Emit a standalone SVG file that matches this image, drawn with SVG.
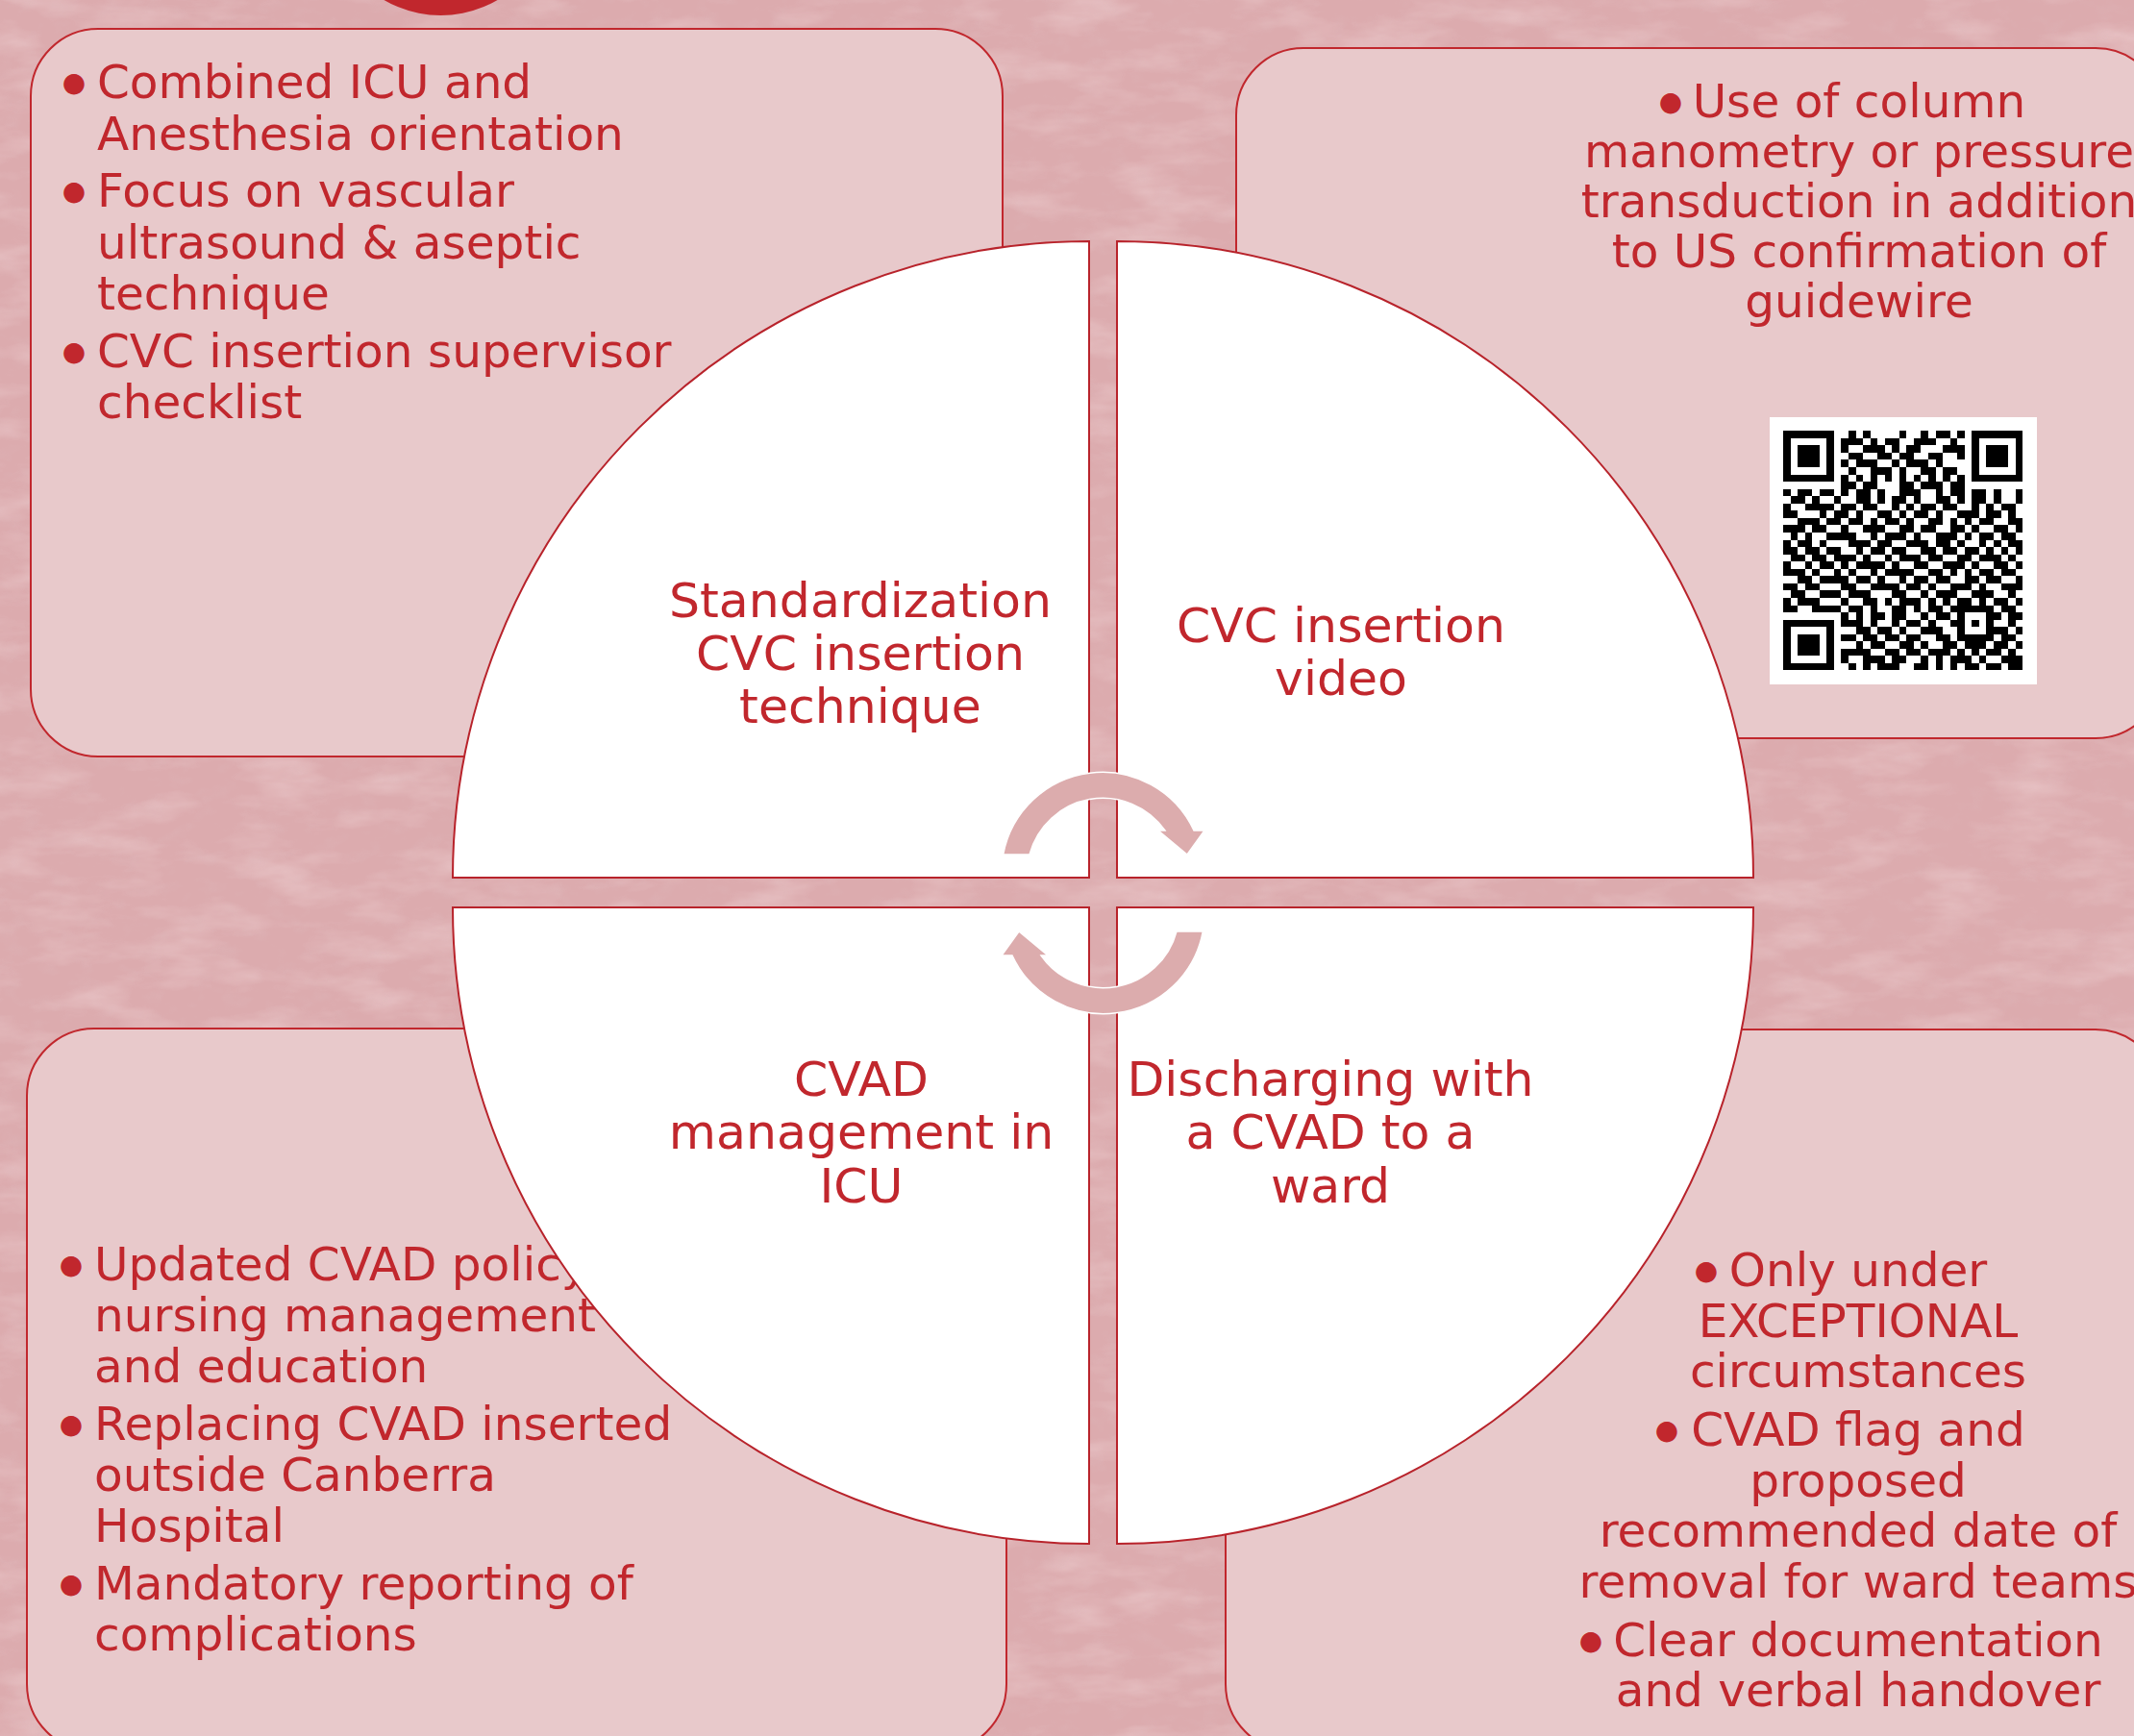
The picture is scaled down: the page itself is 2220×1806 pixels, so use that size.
<svg xmlns="http://www.w3.org/2000/svg" width="2220" height="1806" viewBox="0 0 2220 1806">
  <defs>
    <style>
      .box { fill: #e8c9cb; stroke: #c1272d; stroke-width: 2; }
      .quad { fill: #ffffff; stroke: #b8232b; stroke-width: 2; }
      .arrow { fill: #dcacad; stroke: #ffffff; stroke-width: 1.5; }
      .txt { font-family: Verdana, "DejaVu Sans", sans-serif; font-size: 48.5px; fill: #c1272d; }
      .lbl { font-size: 50.5px; text-anchor: middle; }
      .mid { text-anchor: middle; }
      .dot { text-anchor: middle; font-size: 28px; }
    </style>
    <filter id="mottle" x="0" y="0" width="100%" height="100%">
      <feTurbulence type="fractalNoise" baseFrequency="0.012 0.035" numOctaves="4" seed="7"/>
      <feColorMatrix type="matrix" values="0 0 0 0 0.94  0 0 0 0 0.79  0 0 0 0 0.80  0 0 0 1.6 -0.7"/>
    </filter>
    <filter id="mottleDark" x="0" y="0" width="100%" height="100%">
      <feTurbulence type="fractalNoise" baseFrequency="0.04 0.06" numOctaves="3" seed="19"/>
      <feColorMatrix type="matrix" values="0 0 0 0 0.74  0 0 0 0 0.52  0 0 0 0 0.54  0 0 0 1.6 -0.8"/>
    </filter>
  </defs>

  <!-- textured pink backdrop -->
  <g id="background">
    <rect x="0" y="0" width="2220" height="1806" fill="#dcabae"/>
    <rect x="0" y="0" width="2220" height="1806" filter="url(#mottle)" opacity="0.45"/>
    <rect x="0" y="0" width="2220" height="1806" filter="url(#mottleDark)" opacity="0.3"/>
  </g>

  <!-- red disc peeking in at the top edge -->
  <circle id="top-disc" cx="458.5" cy="-101" r="117" fill="#c1272d"/>

  <!-- top-left note -->
  <g id="note-top-left">
    <rect class="box" x="32" y="30" width="1011" height="757" rx="70" ry="70"/>
    <text class="txt"><tspan class="dot" x="77" y="95">●</tspan><tspan x="101" y="102">Combined ICU and</tspan><tspan x="101" y="155.5">Anesthesia orientation</tspan></text>
    <text class="txt"><tspan class="dot" x="77" y="208">●</tspan><tspan x="101" y="215">Focus on vascular</tspan><tspan x="101" y="268.5">ultrasound &amp; aseptic</tspan><tspan x="101" y="322">technique</tspan></text>
    <text class="txt"><tspan class="dot" x="77" y="374.5">●</tspan><tspan x="101" y="381.5">CVC insertion supervisor</tspan><tspan x="101" y="435">checklist</tspan></text>
  </g>

  <!-- top-right note with QR code -->
  <g id="note-top-right">
    <rect class="box" x="1286" y="50" width="964" height="718" rx="70" ry="70"/>
    <text class="txt"><tspan class="dot" x="1738" y="115">●</tspan><tspan class="mid" x="1934" y="122">Use of column</tspan><tspan class="mid" x="1934" y="174">manometry or pressure</tspan><tspan class="mid" x="1934" y="226">transduction in addition</tspan><tspan class="mid" x="1934" y="278">to US confirmation of</tspan><tspan class="mid" x="1934" y="330">guidewire</tspan></text>
    <g id="qr-code">
      <rect x="1841" y="434" width="278" height="278" fill="#ffffff"/>
      <path transform="translate(1855 448.3) scale(7.55)" fill="#000000" shape-rendering="crispEdges" d="
M0 0h7v1h-7zM9 0h1v1h-1zM11 0h1v1h-1zM16 0h1v1h-1zM19 0h1v1h-1zM21 0h2v1h-2zM24 0h1v1h-1zM26 0h7v1h-7z
M0 1h1v1h-1zM6 1h1v1h-1zM8 1h3v1h-3zM12 1h1v1h-1zM14 1h2v1h-2zM18 1h3v1h-3zM23 1h1v1h-1zM26 1h1v1h-1zM32 1h1v1h-1z
M0 2h1v1h-1zM2 2h3v1h-3zM6 2h1v1h-1zM8 2h1v1h-1zM11 2h3v1h-3zM15 2h1v1h-1zM17 2h2v1h-2zM22 2h3v1h-3zM26 2h1v1h-1zM28 2h3v1h-3zM32 2h1v1h-1z
M0 3h1v1h-1zM2 3h3v1h-3zM6 3h1v1h-1zM9 3h2v1h-2zM13 3h2v1h-2zM16 3h2v1h-2zM20 3h2v1h-2zM24 3h1v1h-1zM26 3h1v1h-1zM28 3h3v1h-3zM32 3h1v1h-1z
M0 4h1v1h-1zM2 4h3v1h-3zM6 4h1v1h-1zM8 4h1v1h-1zM10 4h3v1h-3zM15 4h1v1h-1zM17 4h3v1h-3zM21 4h1v1h-1zM26 4h1v1h-1zM28 4h3v1h-3zM32 4h1v1h-1z
M0 5h1v1h-1zM6 5h1v1h-1zM9 5h1v1h-1zM12 5h3v1h-3zM16 5h1v1h-1zM19 5h2v1h-2zM22 5h2v1h-2zM26 5h1v1h-1zM32 5h1v1h-1z
M0 6h7v1h-7zM8 6h1v1h-1zM10 6h1v1h-1zM12 6h1v1h-1zM14 6h1v1h-1zM16 6h1v1h-1zM18 6h1v1h-1zM20 6h1v1h-1zM22 6h1v1h-1zM24 6h1v1h-1zM26 6h7v1h-7z
M8 7h2v1h-2zM11 7h2v1h-2zM16 7h2v1h-2zM19 7h3v1h-3zM23 7h2v1h-2z
M0 8h1v1h-1zM2 8h2v1h-2zM5 8h2v1h-2zM8 8h1v1h-1zM10 8h2v1h-2zM13 8h1v1h-1zM16 8h3v1h-3zM21 8h1v1h-1zM23 8h2v1h-2zM26 8h2v1h-2zM29 8h1v1h-1zM32 8h1v1h-1z
M1 9h2v1h-2zM4 9h1v1h-1zM7 9h1v1h-1zM10 9h2v1h-2zM13 9h1v1h-1zM15 9h2v1h-2zM18 9h1v1h-1zM21 9h2v1h-2zM24 9h1v1h-1zM26 9h2v1h-2zM29 9h1v1h-1zM32 9h1v1h-1z
M0 10h1v1h-1zM3 10h4v1h-4zM8 10h2v1h-2zM11 10h2v1h-2zM15 10h1v1h-1zM17 10h1v1h-1zM19 10h2v1h-2zM22 10h2v1h-2zM26 10h1v1h-1zM28 10h1v1h-1zM30 10h2v1h-2z
M0 11h2v1h-2zM5 11h1v1h-1zM7 11h2v1h-2zM10 11h1v1h-1zM13 11h2v1h-2zM16 11h1v1h-1zM18 11h2v1h-2zM21 11h1v1h-1zM24 11h3v1h-3zM28 11h2v1h-2zM31 11h1v1h-1z
M2 12h3v1h-3zM6 12h2v1h-2zM9 12h2v1h-2zM12 12h1v1h-1zM14 12h2v1h-2zM17 12h1v1h-1zM20 12h2v1h-2zM23 12h1v1h-1zM25 12h1v1h-1zM27 12h2v1h-2zM31 12h2v1h-2z
M0 13h3v1h-3zM4 13h2v1h-2zM8 13h1v1h-1zM11 13h3v1h-3zM16 13h2v1h-2zM19 13h2v1h-2zM23 13h2v1h-2zM26 13h1v1h-1zM29 13h2v1h-2zM32 13h1v1h-1z
M1 14h1v1h-1zM3 14h1v1h-1zM6 14h4v1h-4zM12 14h1v1h-1zM14 14h3v1h-3zM18 14h1v1h-1zM21 14h3v1h-3zM25 14h1v1h-1zM27 14h2v1h-2zM30 14h2v1h-2z
M0 15h1v1h-1zM2 15h2v1h-2zM5 15h1v1h-1zM9 15h3v1h-3zM13 15h2v1h-2zM17 15h3v1h-3zM21 15h2v1h-2zM24 15h1v1h-1zM27 15h1v1h-1zM29 15h1v1h-1zM31 15h2v1h-2z
M0 16h2v1h-2zM3 16h2v1h-2zM6 16h2v1h-2zM10 16h1v1h-1zM12 16h2v1h-2zM15 16h2v1h-2zM19 16h2v1h-2zM22 16h2v1h-2zM25 16h2v1h-2zM28 16h1v1h-1zM30 16h1v1h-1zM32 16h1v1h-1z
M1 17h2v1h-2zM4 17h2v1h-2zM7 17h3v1h-3zM11 17h1v1h-1zM14 17h1v1h-1zM16 17h3v1h-3zM20 17h2v1h-2zM24 17h2v1h-2zM27 17h3v1h-3zM31 17h1v1h-1z
M0 18h1v1h-1zM3 18h1v1h-1zM5 18h2v1h-2zM8 18h1v1h-1zM10 18h4v1h-4zM15 18h1v1h-1zM18 18h2v1h-2zM22 18h3v1h-3zM26 18h1v1h-1zM29 18h2v1h-2zM32 18h1v1h-1z
M0 19h3v1h-3zM4 19h1v1h-1zM7 19h1v1h-1zM9 19h1v1h-1zM12 19h1v1h-1zM14 19h4v1h-4zM20 19h2v1h-2zM23 19h1v1h-1zM25 19h1v1h-1zM27 19h2v1h-2zM30 19h2v1h-2z
M2 20h2v1h-2zM5 20h4v1h-4zM10 20h2v1h-2zM13 20h1v1h-1zM16 20h1v1h-1zM18 20h2v1h-2zM21 20h2v1h-2zM25 20h2v1h-2zM28 20h2v1h-2zM32 20h1v1h-1z
M0 21h2v1h-2zM3 21h2v1h-2zM8 21h2v1h-2zM12 21h4v1h-4zM17 21h2v1h-2zM20 21h1v1h-1zM23 21h3v1h-3zM27 21h1v1h-1zM30 21h3v1h-3z
M1 22h2v1h-2zM5 22h3v1h-3zM9 22h3v1h-3zM15 22h2v1h-2zM19 22h1v1h-1zM21 22h3v1h-3zM26 22h3v1h-3zM31 22h1v1h-1z
M0 23h1v1h-1zM2 23h3v1h-3zM8 23h1v1h-1zM11 23h2v1h-2zM14 23h1v1h-1zM16 23h3v1h-3zM20 23h1v1h-1zM22 23h1v1h-1zM24 23h2v1h-2zM27 23h1v1h-1zM29 23h2v1h-2zM32 23h1v1h-1z
M0 24h2v1h-2zM4 24h4v1h-4zM9 24h2v1h-2zM12 24h1v1h-1zM15 24h2v1h-2zM18 24h1v1h-1zM20 24h2v1h-2zM23 24h6v1h-6zM30 24h2v1h-2z
M8 25h1v1h-1zM10 25h1v1h-1zM12 25h2v1h-2zM15 25h2v1h-2zM19 25h1v1h-1zM21 25h2v1h-2zM24 25h1v1h-1zM28 25h2v1h-2zM31 25h2v1h-2z
M0 26h7v1h-7zM8 26h3v1h-3zM12 26h1v1h-1zM15 26h1v1h-1zM17 26h2v1h-2zM20 26h1v1h-1zM23 26h2v1h-2zM26 26h1v1h-1zM28 26h1v1h-1zM31 26h1v1h-1z
M0 27h1v1h-1zM6 27h1v1h-1zM10 27h2v1h-2zM13 27h2v1h-2zM16 27h1v1h-1zM19 27h3v1h-3zM24 27h1v1h-1zM28 27h3v1h-3zM32 27h1v1h-1z
M0 28h1v1h-1zM2 28h3v1h-3zM6 28h1v1h-1zM8 28h2v1h-2zM11 28h2v1h-2zM14 28h2v1h-2zM17 28h2v1h-2zM21 28h2v1h-2zM24 28h5v1h-5zM30 28h2v1h-2z
M0 29h1v1h-1zM2 29h3v1h-3zM6 29h1v1h-1zM10 29h1v1h-1zM12 29h2v1h-2zM16 29h2v1h-2zM19 29h1v1h-1zM22 29h2v1h-2zM25 29h3v1h-3zM29 29h2v1h-2zM32 29h1v1h-1z
M0 30h1v1h-1zM2 30h3v1h-3zM6 30h1v1h-1zM8 30h4v1h-4zM14 30h2v1h-2zM17 30h2v1h-2zM20 30h3v1h-3zM24 30h1v1h-1zM26 30h1v1h-1zM28 30h2v1h-2zM31 30h1v1h-1z
M0 31h1v1h-1zM6 31h1v1h-1zM8 31h1v1h-1zM11 31h3v1h-3zM15 31h2v1h-2zM19 31h1v1h-1zM21 31h1v1h-1zM23 31h3v1h-3zM27 31h1v1h-1zM30 31h3v1h-3z
M0 32h7v1h-7zM9 32h1v1h-1zM11 32h1v1h-1zM13 32h3v1h-3zM18 32h2v1h-2zM21 32h1v1h-1zM23 32h1v1h-1zM25 32h2v1h-2zM28 32h2v1h-2zM31 32h2v1h-2z"/>
    </g>
  </g>

  <!-- bottom-left note -->
  <g id="note-bottom-left">
    <rect class="box" x="28" y="1070" width="1019" height="752" rx="70" ry="70"/>
    <text class="txt"><tspan class="dot" x="74" y="1325">●</tspan><tspan x="98" y="1332">Updated CVAD policy</tspan><tspan x="98" y="1385">nursing management</tspan><tspan x="98" y="1438">and education</tspan></text>
    <text class="txt"><tspan class="dot" x="74" y="1491">●</tspan><tspan x="98" y="1498">Replacing CVAD inserted</tspan><tspan x="98" y="1551">outside Canberra</tspan><tspan x="98" y="1604">Hospital</tspan></text>
    <text class="txt"><tspan class="dot" x="74" y="1657">●</tspan><tspan x="98" y="1664">Mandatory reporting of</tspan><tspan x="98" y="1717">complications</tspan></text>
  </g>

  <!-- bottom-right note -->
  <g id="note-bottom-right">
    <rect class="box" x="1275" y="1071" width="975" height="751" rx="70" ry="70"/>
    <text class="txt"><tspan class="dot" x="1775" y="1331">●</tspan><tspan class="mid" x="1933" y="1338">Only under</tspan><tspan class="mid" x="1933" y="1390.5">EXCEPTIONAL</tspan><tspan class="mid" x="1933" y="1443">circumstances</tspan></text>
    <text class="txt"><tspan class="dot" x="1734" y="1497">●</tspan><tspan class="mid" x="1933" y="1504">CVAD flag and</tspan><tspan class="mid" x="1933" y="1556.5">proposed</tspan><tspan class="mid" x="1933" y="1609">recommended date of</tspan><tspan class="mid" x="1933" y="1661.5">removal for ward teams</tspan></text>
    <text class="txt"><tspan class="dot" x="1655" y="1715.5">●</tspan><tspan class="mid" x="1933" y="1722.5">Clear documentation</tspan><tspan class="mid" x="1933" y="1775">and verbal handover</tspan></text>
  </g>

  <!-- four quarter-circle segments -->
  <g id="segment-standardization">
    <path class="quad" d="M1133 913 L471 913 A662 662 0 0 1 1133 251 Z"/>
    <text class="txt lbl"><tspan x="895" y="641.7">Standardization</tspan><tspan x="895" y="697.3">CVC insertion</tspan><tspan x="895" y="751.7">technique</tspan></text>
  </g>
  <g id="segment-video">
    <path class="quad" d="M1162 913 L1162 251 A662 662 0 0 1 1824 913 Z"/>
    <text class="txt lbl"><tspan x="1395" y="668">CVC insertion</tspan><tspan x="1395" y="723">video</tspan></text>
  </g>
  <g id="segment-icu">
    <path class="quad" d="M1133 944 L471 944 A662 662 0 0 0 1133 1606 Z"/>
    <text class="txt lbl"><tspan x="896" y="1140">CVAD</tspan><tspan x="896" y="1195">management in</tspan><tspan x="896" y="1250.7">ICU</tspan></text>
  </g>
  <g id="segment-discharge">
    <path class="quad" d="M1162 944 L1824 944 A662 662 0 0 1 1162 1606 Z"/>
    <text class="txt lbl"><tspan x="1384" y="1140">Discharging with</tspan><tspan x="1384" y="1195">a CVAD to a</tspan><tspan x="1384" y="1250.7">ward</tspan></text>
  </g>

  <!-- circular cycle arrows in the middle -->
  <g id="connectors">
    <path class="arrow" d="M1043.6 889 A105 105 0 0 1 1242 864 L1253 864 L1235 889 L1205 864 L1212 864 A79 79 0 0 0 1071 889 Z"/>
    <path class="arrow" transform="rotate(180 1147.5 929)" d="M1043.6 889 A105 105 0 0 1 1242 864 L1253 864 L1235 889 L1205 864 L1212 864 A79 79 0 0 0 1071 889 Z"/>
  </g>
</svg>
